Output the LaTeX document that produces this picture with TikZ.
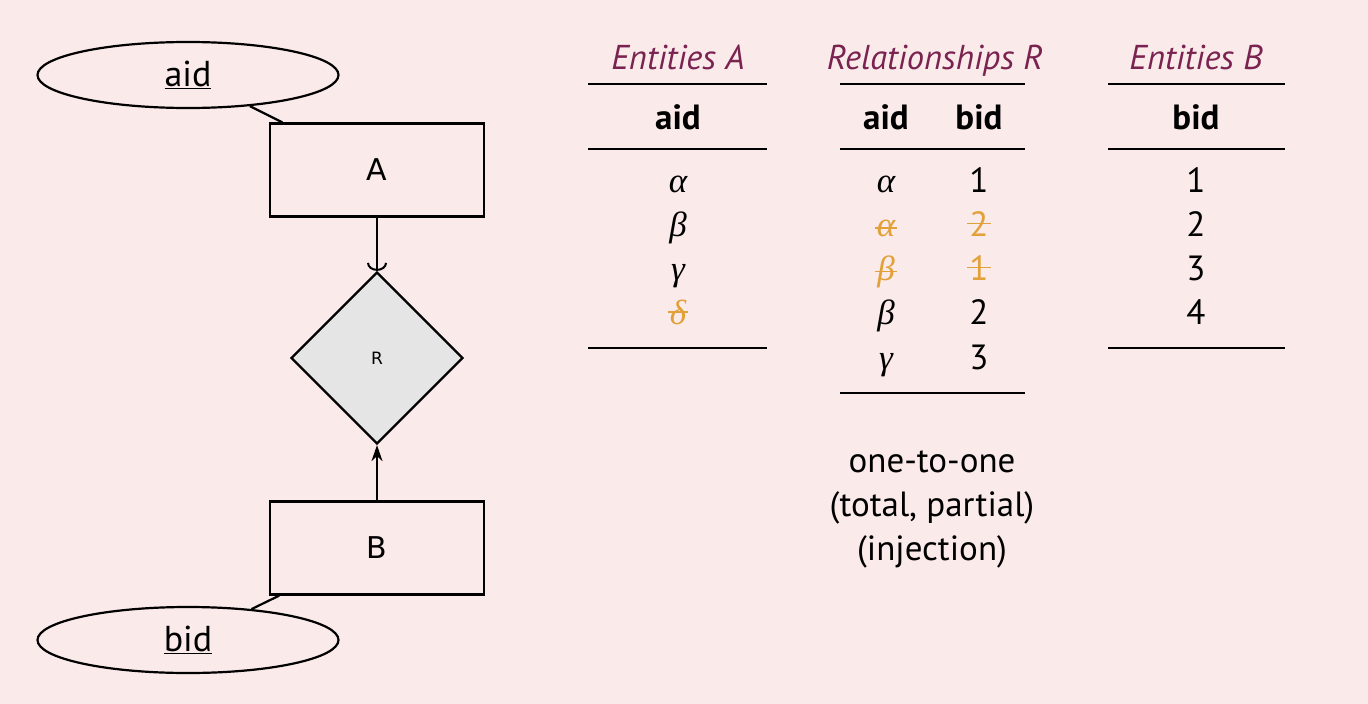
\documentclass[tikz,border=0pt]{standalone}
\usepackage{fontspec}
\setmainfont{PT Sans}
\newfontfamily\djv{DejaVu Sans}
\newfontfamily\grk{Liberation Serif}
\usetikzlibrary{shapes.geometric,arrows.meta}
\definecolor{bg}{HTML}{FBEAEA}
\definecolor{maroon}{HTML}{7A2350}
\definecolor{strk}{HTML}{E2A138}
\definecolor{dgray}{HTML}{E5E5E5}
\newcommand{\gk}[1]{{\grk\itshape #1}}
\begin{document}
\begin{tikzpicture}[x=1pt,y=-1pt,
  txt/.style={font=\fontsize{35}{40}\selectfont, inner sep=0pt, anchor=base},
  hdr/.style={txt, font=\fontsize{35}{40}\selectfont\bfseries},
  ttl/.style={txt, font=\fontsize{34.5}{40}\selectfont\itshape, text=maroon},
  strike/.style={txt, text=strk, append after command={([xshift=-2pt]\tikzlastnode.west) edge[draw=strk, line width=1.8pt] ([xshift=2pt]\tikzlastnode.east)}},
  ent/.style={draw, line width=2.2pt, minimum width=214pt, minimum height=93pt, font=\djv\fontsize{30}{34}\selectfont},
  attr/.style={draw, ellipse, line width=2.2pt, minimum width=301pt, minimum height=66pt, inner sep=0pt, font=\fontsize{36}{40}\selectfont},
  rel/.style={draw, diamond, fill=dgray, line width=2.2pt, minimum width=172pt, minimum height=172pt, inner sep=0pt, aspect=1, font=\djv\fontsize{17}{20}\selectfont},
  conn/.style={line width=2.2pt},
  thick rule/.style={line width=2.4pt},
  thin rule/.style={line width=1.1pt}
]
\useasboundingbox[fill=bg] (0,0) rectangle (1368,704);

% ER diagram
\node[attr] (aid) at (188,75) {\underline{aid}};
\node[ent] (A) at (377,170) {A};
\node[rel] (R) at (377,358) {R};
\node[ent] (B) at (377,548) {B};
\node[attr] (bid) at (188,640) {\underline{bid}};
\draw[conn] (A) -- (aid);
\draw[conn] (B) -- (bid);
\draw[conn, -{Arc Barb[width=20pt,length=8pt,line width=2pt]}] (A) -- (R);
\draw[conn, -{Stealth[width=11pt,length=16pt,inset=5pt]}] (B) -- (R);

% Table A
\node[ttl] (tA) at (678,69) {Entities A};
\coordinate (a1) at (588,84); \coordinate (a2) at (767,84);
\coordinate (a3) at (588,149); \coordinate (a4) at (767,149);
\coordinate (a5) at (588,348); \coordinate (a6) at (767,348);
\draw[thick rule] (a1) -- (a2);
\draw[thin rule] (a3) -- (a4);
\draw[thick rule] (a5) -- (a6);
\node[hdr] (hA) at (678,129) {aid};
\node[txt] (A1) at (678,192) {\gk{α}};
\node[txt] (A2) at (678,236) {\gk{β}};
\node[txt] (A3) at (678,280) {\gk{γ}};
\node[strike] (A4) at (678,324) {\gk{δ}};

% Table R
\node[ttl] (tR) at (935,69) {Relationships R};
\coordinate (r1) at (840,84); \coordinate (r2) at (1025,84);
\coordinate (r3) at (840,149); \coordinate (r4) at (1025,149);
\coordinate (r5) at (840,393); \coordinate (r6) at (1025,393);
\draw[thick rule] (r1) -- (r2);
\draw[thin rule] (r3) -- (r4);
\draw[thick rule] (r5) -- (r6);
\node[hdr] (hR1) at (886,129) {aid};
\node[hdr] (hR2) at (979,129) {bid};
\node[txt] (R11) at (886,192) {\gk{α}};
\node[txt] (R12) at (979,192) {1};
\node[strike] (R21) at (886,236) {\gk{α}};
\node[strike] (R22) at (979,236) {2};
\node[strike] (R31) at (886,280) {\gk{β}};
\node[strike] (R32) at (979,280) {1};
\node[txt] (R41) at (886,324) {\gk{β}};
\node[txt] (R42) at (979,324) {2};
\node[txt] (R51) at (886,369) {\gk{γ}};
\node[txt] (R52) at (979,369) {3};

% Table B
\node[ttl] (tB) at (1196,69) {Entities B};
\coordinate (b1) at (1108,84); \coordinate (b2) at (1285,84);
\coordinate (b3) at (1108,149); \coordinate (b4) at (1285,149);
\coordinate (b5) at (1108,348); \coordinate (b6) at (1285,348);
\draw[thick rule] (b1) -- (b2);
\draw[thin rule] (b3) -- (b4);
\draw[thick rule] (b5) -- (b6);
\node[hdr] (hB) at (1196,129) {bid};
\node[txt] (B1) at (1196,192) {1};
\node[txt] (B2) at (1196,236) {2};
\node[txt] (B3) at (1196,280) {3};
\node[txt] (B4) at (1196,324) {4};

% caption
\node[txt] (c1) at (932,472) {one-to-one};
\node[txt] (c2) at (932,516) {(total, partial)};
\node[txt] (c3) at (932,560) {(injection)};
\end{tikzpicture}
\end{document}
